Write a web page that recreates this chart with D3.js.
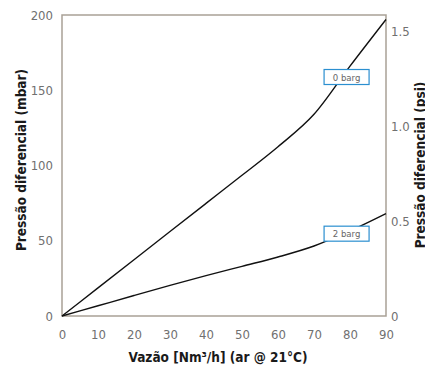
<!DOCTYPE html>
<html>
<head>
<meta charset="utf-8">
<script src="https://cdn.jsdelivr.net/npm/d3@7"></script>
<style>
  body { margin: 0; background: #fff; }
  svg { display: block; }
</style>
</head>
<body>
<div id="chart"></div>
<script>
// Data
const flow = [0, 10, 20, 30, 40, 50, 60, 70, 80, 90];
const bar0 = [0, 18.7, 37.4, 56.1, 74.8, 93.5, 112.5, 134, 166, 197];
const bar2 = [0, 6.8, 13.6, 20.3, 26.8, 33, 39.2, 46.5, 56.5, 68];
const xTicks = [0, 10, 20, 30, 40, 50, 60, 70, 80, 90];
const yTicks = [0, 50, 100, 150, 200];
const psiTicks = [0, 0.5, 1.0, 1.5];
const seriesLabels = ["0 barg", "2 barg"];

const width = 425, height = 369;
const margin = { top: 15, right: 39, bottom: 53, left: 62 };
const innerW = width - margin.left - margin.right;
const innerH = height - margin.top - margin.bottom;
const font = "'DejaVu Sans Condensed', 'DejaVu Sans', sans-serif";

const svg = d3.select("#chart")
    .append("svg")
    .attr("width", width)
    .attr("height", height)
    .style("font-family", font);

const g = svg.append("g")
    .attr("transform", `translate(${margin.left},${margin.top})`);

const x = d3.scaleLinear().domain([0, 90]).range([0, innerW]);
const y = d3.scaleLinear().domain([0, 200]).range([innerH, 0]);
const yPsi = d3.scaleLinear().domain([0, 1.584]).range([innerH, 0]);

// Frame
g.append("rect")
    .attr("width", innerW)
    .attr("height", innerH)
    .attr("fill", "none")
    .attr("stroke", "#a9a196")
    .attr("stroke-width", 1.5);

// Axes (labels only, no tick marks)
const styleAxis = sel => {
    sel.select(".domain").remove();
    sel.selectAll(".tick line").remove();
    sel.selectAll("text")
        .attr("fill", "#707070")
        .style("font-size", "13px")
        .style("font-family", font);
};

g.append("g")
    .attr("transform", `translate(0,${innerH})`)
    .call(d3.axisBottom(x).tickValues(xTicks).tickSize(0).tickPadding(14))
    .call(styleAxis);

g.append("g")
    .call(d3.axisLeft(y).tickValues(yTicks).tickSize(0).tickPadding(9))
    .call(styleAxis);

g.append("g")
    .attr("transform", `translate(${innerW},0)`)
    .call(d3.axisRight(yPsi).tickValues(psiTicks).tickSize(0).tickPadding(5)
        .tickFormat(d => d === 0 ? "0" : d3.format(".1f")(d)))
    .call(styleAxis);

// Curves
const line = d3.line()
    .x(d => x(d[0]))
    .y(d => y(d[1]))
    .curve(d3.curveMonotoneX);

[bar0, bar2].forEach(vals => {
    g.append("path")
        .datum(flow.map((f, i) => [f, vals[i]]))
        .attr("fill", "none")
        .attr("stroke", "#111")
        .attr("stroke-width", 1.4)
        .attr("d", line);
});

// Series labels in boxes
const labelPos = [{ fx: 72.8, v: 158.8 }, { fx: 72.8, v: 54.7 }];
seriesLabels.forEach((lab, i) => {
    const cx = x(labelPos[i].fx) + 22.5;
    const cy = y(labelPos[i].v);
    g.append("rect")
        .attr("x", cx - 22.5)
        .attr("y", cy - 7.5)
        .attr("width", 45)
        .attr("height", 15)
        .attr("fill", "#fff")
        .attr("stroke", "#2b8fd0")
        .attr("stroke-width", 1.2);
    g.append("text")
        .attr("x", cx)
        .attr("y", cy + 3.5)
        .attr("text-anchor", "middle")
        .attr("fill", "#666")
        .style("font-size", "9.5px")
        .text(lab);
});

// Axis titles
svg.append("text")
    .attr("x", margin.left + innerW / 2 - 6)
    .attr("y", 362)
    .attr("text-anchor", "middle")
    .attr("fill", "#1a1a1a")
    .style("font-size", "13.5px")
    .style("font-weight", "bold")
    .text("Vazão [Nm³/h] (ar @ 21°C)");

svg.append("text")
    .attr("transform", "translate(26,160) rotate(-90)")
    .attr("text-anchor", "middle")
    .attr("fill", "#1a1a1a")
    .style("font-size", "13.5px")
    .style("font-weight", "bold")
    .text("Pressão diferencial (mbar)");

svg.append("text")
    .attr("transform", "translate(425,165) rotate(-90)")
    .attr("text-anchor", "middle")
    .attr("fill", "#1a1a1a")
    .style("font-size", "13.5px")
    .style("font-weight", "bold")
    .text("Pressão diferencial (psi)");
</script>
</body>
</html>
